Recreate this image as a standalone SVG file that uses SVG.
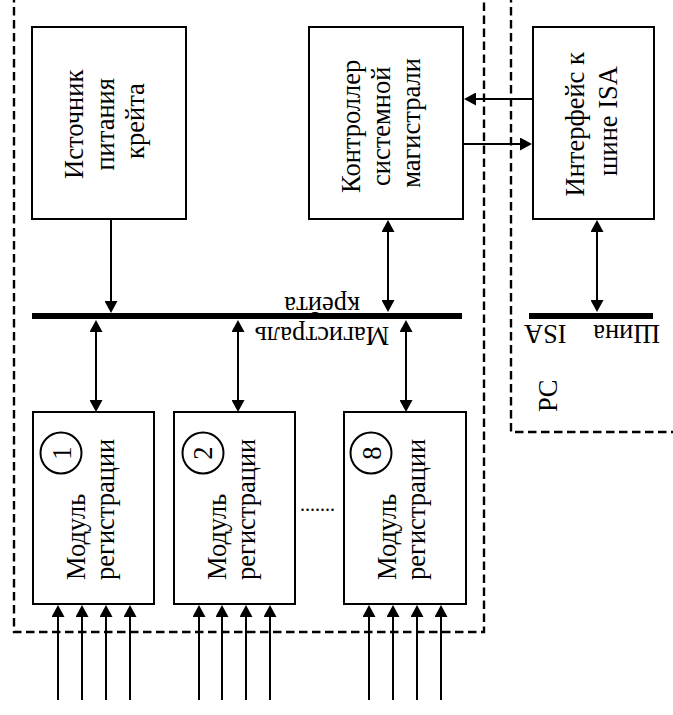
<svg xmlns="http://www.w3.org/2000/svg" width="673" height="715" viewBox="0 0 673 715">
<style>
  .box { fill: #fff; stroke: #000; stroke-width: 2; }
  .ln { fill: none; stroke: #000; stroke-width: 2; }
  .dash { fill: none; stroke: #000; stroke-width: 2.4; stroke-dasharray: 8.5 4.5; }
  .bus { fill: #000; }
  .t { font-family: "Liberation Serif", "Times New Roman", serif; font-size: 26.5px; fill: #000; }
  .m { text-anchor: middle; }
  .a1 { marker-end: url(#ah); }
  .a2 { marker-start: url(#ah); marker-end: url(#ah); }
</style>
<defs>
  <marker id="ah" viewBox="0 0 12 13" refX="10" refY="6.5" markerWidth="12" markerHeight="13" markerUnits="userSpaceOnUse" orient="auto-start-reverse">
    <path d="M0,0 L12,6.5 L0,13 z" fill="#000"/>
  </marker>
</defs>
<rect width="673" height="715" fill="#fff"/>

<g id="crate-border">
  <path class="dash" d="M14,-6 V632 H484 V-6"/>
</g>
<g id="pc-border">
  <path class="dash" d="M511,-6 V432 H680"/>
  <text class="t" transform="translate(557,412) rotate(-90)">PC</text>
</g>

<g id="power">
  <rect class="box" x="32" y="27" width="154" height="192"/>
  <text class="t m" transform="translate(83,121) rotate(-90)">
    <tspan x="0" y="0">Источник</tspan>
    <tspan x="0" y="31">питания</tspan>
    <tspan x="0" y="61">крейта</tspan>
  </text>
</g>

<g id="controller">
  <rect class="box" x="309" y="27" width="154" height="192"/>
  <text class="t m" transform="translate(360,123) rotate(-90)">
    <tspan x="0" y="0">Контроллер</tspan>
    <tspan x="0" y="30">системной</tspan>
    <tspan x="0" y="60">магистрали</tspan>
  </text>
</g>

<g id="isa-interface">
  <rect class="box" x="533" y="27" width="121" height="192"/>
  <text class="t m" transform="translate(584,121) rotate(-90)">
    <tspan x="0" y="0">Интерфейс к</tspan>
    <tspan x="0" y="33">шине ISA</tspan>
  </text>
</g>

<g id="crate-bus">
  <rect class="bus" x="32" y="313" width="430" height="6"/>
  <text class="t m" transform="rotate(180,322,327)" x="322" y="327">Магистраль</text>
  <text class="t m" transform="rotate(180,322,297)" x="322" y="297">крейта</text>
</g>

<g id="isa-bus">
  <rect class="bus" x="529" y="313" width="124" height="6"/>
  <text class="t m" transform="rotate(180,592,325)" x="592" y="325" word-spacing="20">Шина ISA</text>
</g>

<g id="module-1">
  <rect class="box" x="33" y="412" width="121" height="192"/>
  <circle class="box" cx="61" cy="453" r="20.5"/>
  <text class="t m" transform="translate(71,453) rotate(-90)">1</text>
  <text class="t" transform="translate(85,580) rotate(-90)">
    <tspan x="0" y="0">Модуль</tspan>
    <tspan x="0" y="29">регистрации</tspan>
  </text>
</g>

<g id="module-2">
  <rect class="box" x="174" y="412" width="121" height="192"/>
  <circle class="box" cx="203" cy="453" r="20.5"/>
  <text class="t m" transform="translate(212,453) rotate(-90)">2</text>
  <text class="t" transform="translate(226,580) rotate(-90)">
    <tspan x="0" y="0">Модуль</tspan>
    <tspan x="0" y="29">регистрации</tspan>
  </text>
</g>

<g id="ellipsis">
  <text class="t" x="300" y="511" style="font-size:20px">.......</text>
</g>

<g id="module-8">
  <rect class="box" x="344" y="412" width="122" height="192"/>
  <circle class="box" cx="371" cy="453" r="20.5"/>
  <text class="t m" transform="translate(381,453) rotate(-90)">8</text>
  <text class="t" transform="translate(396,580) rotate(-90)">
    <tspan x="0" y="0">Модуль</tspan>
    <tspan x="0" y="29">регистрации</tspan>
  </text>
</g>

<g id="connectors">
  <line class="ln a1" x1="111" y1="219" x2="111" y2="311"/>
  <line class="ln a2" x1="388" y1="222" x2="388" y2="310"/>
  <line class="ln a1" x1="533" y1="99" x2="466" y2="99"/>
  <line class="ln a1" x1="463" y1="144" x2="530" y2="144"/>
  <line class="ln a2" x1="597" y1="222" x2="597" y2="310"/>
  <line class="ln a2" x1="96" y1="322" x2="96" y2="410"/>
  <line class="ln a2" x1="238" y1="322" x2="238" y2="410"/>
  <line class="ln a2" x1="406" y1="322" x2="406" y2="410"/>
  <line class="ln a1" x1="58" y1="700" x2="58" y2="607"/>
  <line class="ln a1" x1="82" y1="700" x2="82" y2="607"/>
  <line class="ln a1" x1="106" y1="700" x2="106" y2="607"/>
  <line class="ln a1" x1="130" y1="700" x2="130" y2="607"/>
  <line class="ln a1" x1="199" y1="700" x2="199" y2="607"/>
  <line class="ln a1" x1="222" y1="700" x2="222" y2="607"/>
  <line class="ln a1" x1="246" y1="700" x2="246" y2="607"/>
  <line class="ln a1" x1="270" y1="700" x2="270" y2="607"/>
  <line class="ln a1" x1="369" y1="700" x2="369" y2="607"/>
  <line class="ln a1" x1="393" y1="700" x2="393" y2="607"/>
  <line class="ln a1" x1="417" y1="700" x2="417" y2="607"/>
  <line class="ln a1" x1="441" y1="700" x2="441" y2="607"/>
</g>
</svg>
